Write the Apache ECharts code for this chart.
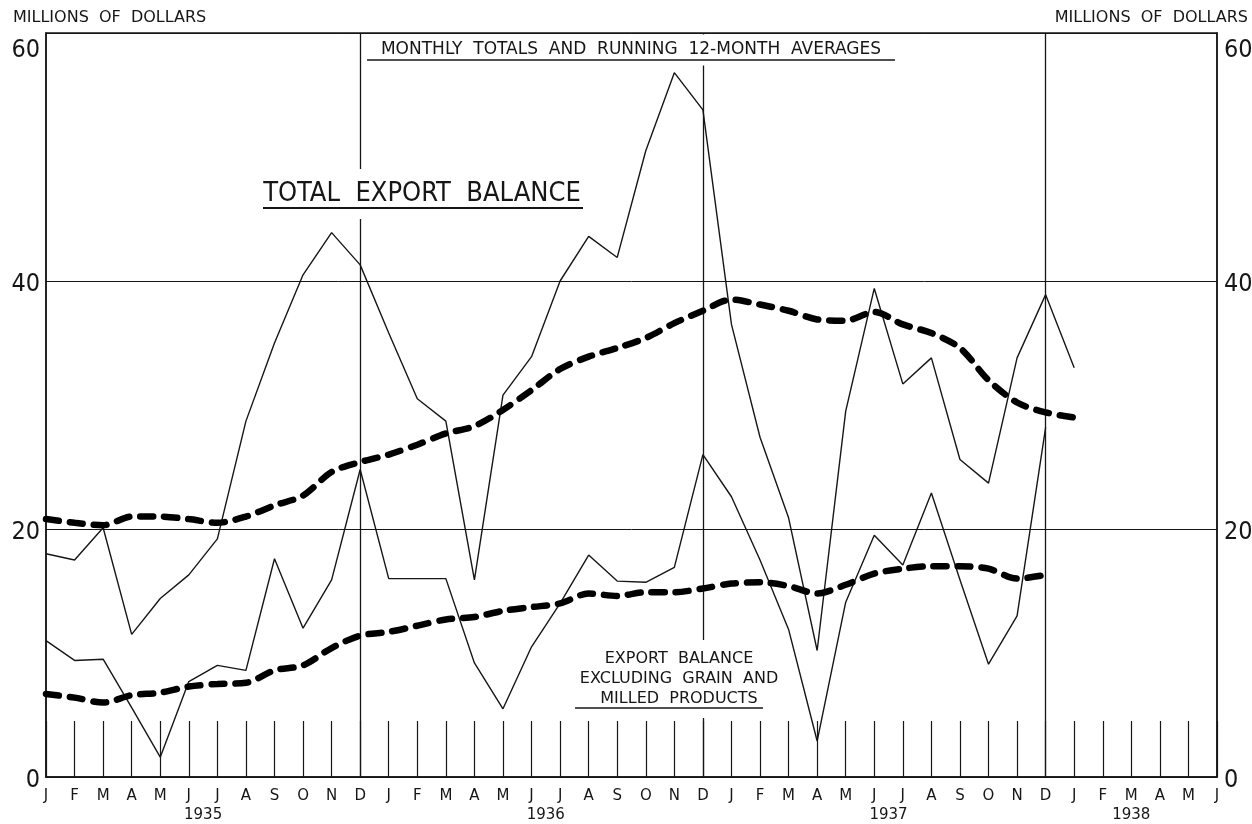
<!DOCTYPE html>
<html>
<head>
<meta charset="utf-8">
<script src="https://cdn.jsdelivr.net/npm/echarts@6/dist/echarts.min.js"></script>
<style>
html,body{margin:0;padding:0;background:#ffffff;}
#chart{width:1252px;height:824px;}
</style>
</head>
<body>
<div id="chart"></div>
<script>
// ---- data ----
const monthLetters = ['J','F','M','A','M','J','J','A','S','O','N','D'];
const yearLabels = ['1935','1936','1937','1938'];
const monthsPerYear = [12, 12, 12, 6];
const yTicks = [0, 20, 40, 60];

// Total export balance, monthly totals (Jan 1935 - Jan 1938), millions of dollars
const totalMonthly = [
  18.0, 17.5, 20.1, 11.5, 14.4, 16.3, 19.2, 28.7, 35.0, 40.5, 43.9, 41.3,
  35.8, 30.5, 28.7, 15.9, 30.8, 33.9, 40.0, 43.6, 41.9, 50.5, 56.8, 53.8,
  36.5, 27.4, 20.9, 10.2, 29.5, 39.4, 31.7, 33.8, 25.6, 23.7, 33.8, 38.9,
  33.0
];
// Total export balance, running 12-month average
const totalAverage = [
  20.8, 20.5, 20.3, 21.0, 21.0, 20.8, 20.5, 21.0, 21.9, 22.7, 24.6, 25.4,
  26.0, 26.8, 27.7, 28.3, 29.6, 31.2, 32.9, 33.9, 34.6, 35.4, 36.6, 37.6,
  38.5, 38.1, 37.6, 36.9, 36.8, 37.5, 36.5, 35.8, 34.6, 32.0, 30.2, 29.4,
  29.0
];
// Export balance excluding grain and milled products, monthly totals (Jan 1935 - Dec 1937)
const exGrainMonthly = [
  11.0,  9.4,  9.5,  5.6,  1.6,  7.7,  9.0,  8.6, 17.6, 12.0, 15.9, 24.8,
  16.0, 16.0, 16.0,  9.2,  5.5, 10.5, 14.0, 17.9, 15.8, 15.7, 16.9, 26.0,
  22.6, 17.5, 11.9,  2.9, 14.1, 19.5, 17.1, 22.9, 15.9,  9.1, 13.0, 28.2
];
// Export balance excluding grain and milled products, running 12-month average
const exGrainAverage = [
   6.7,  6.4,  6.0,  6.6,  6.8,  7.3,  7.5,  7.6,  8.6,  9.0, 10.4, 11.4,
  11.7, 12.2, 12.7, 12.9, 13.4, 13.7, 14.0, 14.8, 14.6, 14.9, 14.9, 15.2,
  15.6, 15.7, 15.4, 14.8, 15.5, 16.4, 16.8, 17.0, 17.0, 16.8, 16.0, 16.3
];

// ---- build categories ----
const categories = [];
yearLabels.forEach((y, yi) => {
  for (let m = 0; m < monthsPerYear[yi]; m++) categories.push(y + '-' + (m + 1));
});
const decIdx = [];
categories.forEach((c, i) => { if (c.endsWith('-12') && i < categories.length - 1) decIdx.push(i); });

const INK = '#161616';
const LETTER = '"DejaVu Sans", "Liberation Sans", sans-serif';
const COND = '"DejaVu Sans Condensed", "Liberation Sans Narrow", "DejaVu Sans", sans-serif';
const topVal = yTicks[yTicks.length - 1];

const chart = echarts.init(document.getElementById('chart'), null, {renderer: 'canvas'});

function yLabel(margin) {
  return {
    color: INK, fontFamily: COND, fontSize: 25, margin: margin,
    formatter: v => v === topVal ? '{top|' + v + '}' : '{n|' + v + '}',
    rich: {
      top: {fontFamily: COND, fontSize: 25, color: INK, padding: [34, 0, 0, 0]},
      n: {fontFamily: COND, fontSize: 25, color: INK, padding: [6, 0, 0, 0]}
    }
  };
}
const yAxisCommon = {
  type: 'value', min: yTicks[0], max: topVal, interval: yTicks[1] - yTicks[0],
  axisLine: {show: true, lineStyle: {color: INK, width: 1.5}},
  axisTick: {show: false}
};
const avgStyle = {color: '#000', width: 6.5, type: [13, 11], cap: 'round'};

chart.setOption({
  backgroundColor: '#ffffff',
  animation: false,
  grid: {left: 46, right: 35, top: 33, bottom: 47, show: true, borderColor: INK, borderWidth: 1.5,
    backgroundColor: 'transparent', containLabel: false, outerBoundsMode: 'none'},
  xAxis: {
    type: 'category', data: categories, boundaryGap: false,
    axisLine: {show: true, lineStyle: {color: INK, width: 1.5}},
    axisTick: {show: true, inside: true, length: 56, interval: 0, lineStyle: {color: INK, width: 1.2}},
    axisLabel: {interval: 0, color: INK, fontFamily: LETTER, fontSize: 15, margin: 12,
      formatter: (v, i) => monthLetters[i % 12]},
    splitLine: {show: true, interval: (i) => decIdx.indexOf(i) >= 0, lineStyle: {color: INK, width: 1.3}}
  },
  yAxis: [
    Object.assign({}, yAxisCommon, {position: 'left', axisLabel: yLabel(6), splitLine: {show: true, lineStyle: {color: INK, width: 1}}}),
    Object.assign({}, yAxisCommon, {position: 'right', axisLabel: yLabel(7), splitLine: {show: false}})
  ],
  series: [
    {name: 'Total export balance (monthly)', type: 'line', data: totalMonthly, symbol: 'none',
      lineStyle: {color: INK, width: 1.4}, z: 3},
    {name: 'Total export balance (12-month average)', type: 'line', data: totalAverage, symbol: 'none', smooth: 0.3,
      lineStyle: avgStyle, z: 4},
    {name: 'Excluding grain (monthly)', type: 'line', data: exGrainMonthly, symbol: 'none',
      lineStyle: {color: INK, width: 1.4}, z: 3},
    {name: 'Excluding grain (12-month average)', type: 'line', data: exGrainAverage, symbol: 'none', smooth: 0.3,
      lineStyle: avgStyle, z: 4}
  ]
});

// year labels placed through the category axis scale
function xAt(i) { return chart.convertToPixel({xAxisIndex: 0}, categories[i]); }
const yearCenters = [
  (xAt(5) + xAt(6)) / 2,
  (xAt(17) + xAt(18)) / 2,
  (xAt(29) + xAt(30)) / 2,
  xAt(38)
];
const graphics = [];
yearLabels.forEach((y, k) => {
  graphics.push({type: 'text', z: 100, style: {text: y, x: yearCenters[k], y: 815, align: 'center', verticalAlign: 'middle',
    font: '15px ' + LETTER, fill: INK}});
});
// axis unit captions
graphics.push({type: 'text', z: 100, style: {text: 'MILLIONS  OF  DOLLARS', x: 13, y: 18, align: 'left', verticalAlign: 'middle', font: '16px ' + LETTER, fill: INK}});
graphics.push({type: 'text', z: 100, style: {text: 'MILLIONS  OF  DOLLARS', x: 1248, y: 18, align: 'right', verticalAlign: 'middle', font: '16px ' + LETTER, fill: INK}});
// subtitle
graphics.push({type: 'text', z: 100, style: {text: 'MONTHLY  TOTALS  AND  RUNNING  12-MONTH  AVERAGES', x: 631, y: 50, align: 'center', verticalAlign: 'middle',
  font: '17px ' + LETTER, lineHeight: 20, fill: INK, backgroundColor: '#ffffff', padding: [6, 3, 5, 3]}});
graphics.push({type: 'line', z: 101, shape: {x1: 367, y1: 60, x2: 895, y2: 60}, style: {stroke: INK, lineWidth: 1.5}});
// main title
graphics.push({type: 'text', z: 100, style: {text: 'TOTAL  EXPORT  BALANCE', x: 422, y: 194, align: 'center', verticalAlign: 'middle',
  font: '27px ' + COND, fill: INK, backgroundColor: '#ffffff', padding: [10, 3, 13, 3]}});
graphics.push({type: 'line', z: 101, shape: {x1: 263, y1: 208, x2: 583, y2: 208}, style: {stroke: INK, lineWidth: 1.8}});
// lower annotation
graphics.push({type: 'text', z: 100, style: {text: 'EXPORT  BALANCE\nEXCLUDING  GRAIN  AND\nMILLED  PRODUCTS', x: 679, y: 679, align: 'center', verticalAlign: 'middle',
  font: '16px ' + LETTER, lineHeight: 20, fill: INK, backgroundColor: '#ffffff', padding: [10, 4, 8, 4]}});
graphics.push({type: 'line', z: 101, shape: {x1: 575, y1: 708, x2: 763, y2: 708}, style: {stroke: INK, lineWidth: 1.5}});

chart.setOption({graphic: graphics});
</script>
</body>
</html>
